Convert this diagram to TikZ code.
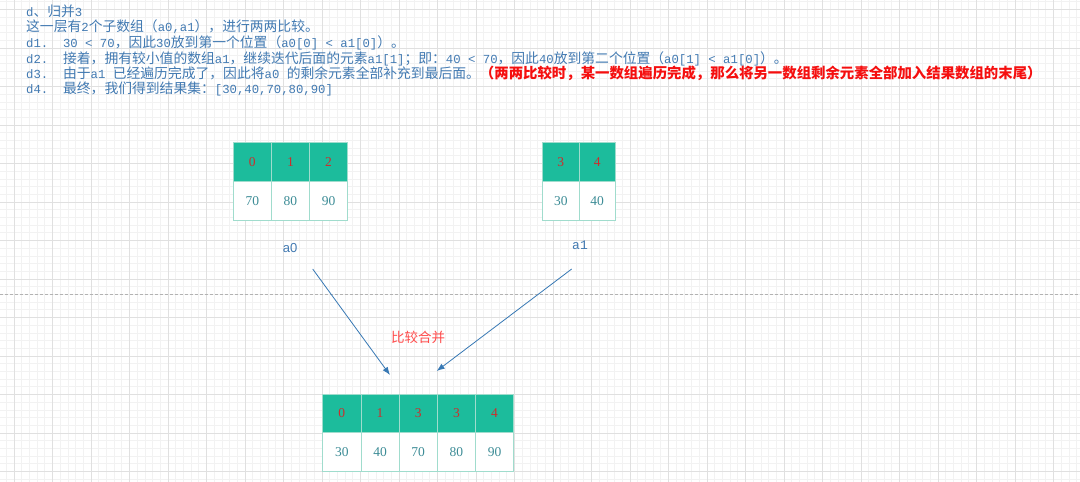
\documentclass[tikz,border=0pt]{standalone}
\usepackage{fontspec}
\setmainfont{Liberation Serif}
\newfontfamily\cjk{Noto Sans CJK SC}
\newfontfamily\latf{Liberation Mono}
\newfontfamily\sansf{Liberation Sans}
\usetikzlibrary{arrows.meta}
\definecolor{txtblue}{RGB}{66,122,178}
\definecolor{hdrfill}{RGB}{28,188,156}
\definecolor{hdrtxt}{RGB}{205,45,45}
\definecolor{valtxt}{RGB}{60,140,150}
\definecolor{cellb}{RGB}{160,220,205}
\definecolor{gridmin}{RGB}{242,242,242}
\definecolor{gridmaj}{RGB}{224,224,224}
\definecolor{arrcol}{RGB}{55,120,180}
\definecolor{notered}{RGB}{245,15,15}
\definecolor{mergered}{RGB}{255,75,75}
\newcommand\ml[1]{{\latf\fontsize{12.3}{14}\selectfont #1}}
\tikzset{
  txt/.style={anchor=base west, inner sep=0pt, text=txtblue, font=\cjk\fontsize{13.8}{15}\selectfont},
  hcell/.style={draw=cellb, fill=hdrfill, line width=0.8pt, inner sep=0pt, text=hdrtxt,
    font=\fontsize{13.5}{14}\selectfont},
  vcell/.style={draw=cellb, fill=white, line width=0.8pt, inner sep=0pt, text=valtxt,
    font=\fontsize{13.5}{14}\selectfont},
  arr/.style={draw=arrcol, line width=0.8pt, -{Latex[length=8pt,width=6pt]}},
  lbl/.style={inner sep=0pt, text=txtblue, font=\fontsize{13}{14}\selectfont}
}
\begin{document}
\begin{tikzpicture}[x=1pt,y=-1pt]
\useasboundingbox (0,0) rectangle (1080,482);
\fill[white] (0,0) rectangle (1080,482);
% grid
\foreach \i in {-1,...,140} {
  \draw[gridmin, line width=0.8pt] ({14+7.7*\i},0) -- ({14+7.7*\i},482);
}
\foreach \j in {-1,...,62} {
  \draw[gridmin, line width=0.8pt] (0,{9.5+7.7*\j}) -- (1080,{9.5+7.7*\j});
}
\foreach \i in {0,...,28} {
  \draw[gridmaj, line width=1pt] ({14+38.5*\i},0) -- ({14+38.5*\i},482);
}
\foreach \j in {0,...,12} {
  \draw[gridmaj, line width=1pt] (0,{9.5+38.5*\j}) -- (1080,{9.5+38.5*\j});
}
\draw[gray!60, line width=0.8pt, dash pattern=on 3pt off 2pt] (0,294.3) -- (1080,294.3);

% text
\node[txt] (t1) at (26,16.7) {\ml{d}、归并\ml{3}};
\node[txt] (t2) at (26,31.5) {这一层有\ml{2}个子数组（\ml{a0,a1}），进行两两比较。};
\node[txt] (t3) at (26,47) {\ml{d1.\ \ 30 < 70}，因此\ml{30}放到第一个位置（\ml{a0[0] < a1[0]}）。};
\node[txt] (t4) at (26,63) {\ml{d2.\ \ }接着，拥有较小值的数组\ml{a1}，继续迭代后面的元素\ml{a1[1]}；即：\ml{40 < 70}，因此\ml{40}放到第二个位置（\ml{a0[1] < a1[0]}）。};
\node[txt] (t5) at (26,78.3) {\ml{d3.\ \ }由于\ml{a1 }已经遍历完成了，因此将\ml{a0 }的剩余元素全部补充到最后面。\textcolor{notered}{\bfseries\fontsize{14.4}{15}\selectfont （两两比较时，某一数组遍历完成，那么将另一数组剩余元素全部加入结果数组的末尾）}};
\node[txt] (t6) at (26,93.3) {\ml{d4.\ \ }最终，我们得到结果集：\ml{[30,40,70,80,90]}};

% array a0
\foreach \d [count=\i from 0] in {0,1,2} {
  \node[hcell, minimum width=38.1pt, minimum height=39pt] (a0h\i) at ({252.35+38.1*\i},162.2) {\d};
}
\foreach \d [count=\i from 0] in {70,80,90} {
  \node[vcell, minimum width=38.1pt, minimum height=38.3pt] (a0v\i) at ({252.35+38.1*\i},200.85) {\d};
}
% array a1
\foreach \d [count=\i from 0] in {3,4} {
  \node[hcell, minimum width=36.3pt, minimum height=39pt] (a1h\i) at ({560.85+36.3*\i},162.2) {\d};
}
\foreach \d [count=\i from 0] in {30,40} {
  \node[vcell, minimum width=36.3pt, minimum height=38.3pt] (a1v\i) at ({560.85+36.3*\i},200.85) {\d};
}
% result
\foreach \d [count=\i from 0] in {0,1,3,3,4} {
  \node[hcell, minimum width=38.2pt, minimum height=38.4pt] (rh\i) at ({341.8+38.2*\i},413.5) {\d};
}
\foreach \d [count=\i from 0] in {30,40,70,80,90} {
  \node[vcell, minimum width=38.2pt, minimum height=38.3pt] (rv\i) at ({341.8+38.2*\i},451.85) {\d};
}

% labels
\node[lbl, font=\sansf\fontsize{13}{14}\selectfont] (la0) at (290,248.5) {a0};
\node[lbl, font=\latf\fontsize{13}{14}\selectfont] (la1) at (580,245) {a1};
\node[inner sep=0pt, text=mergered, font=\cjk\fontsize{13.5}{15}\selectfont] (mg) at (418,337) {比较合并};

% arrows
\coordinate (s0) at (312.7,269);
\coordinate (e0) at (390,375);
\coordinate (s1) at (571.7,269);
\coordinate (e1) at (436.7,371);
\draw[arr] (s0) -- (e0);
\draw[arr] (s1) -- (e1);
\end{tikzpicture}
\end{document}
